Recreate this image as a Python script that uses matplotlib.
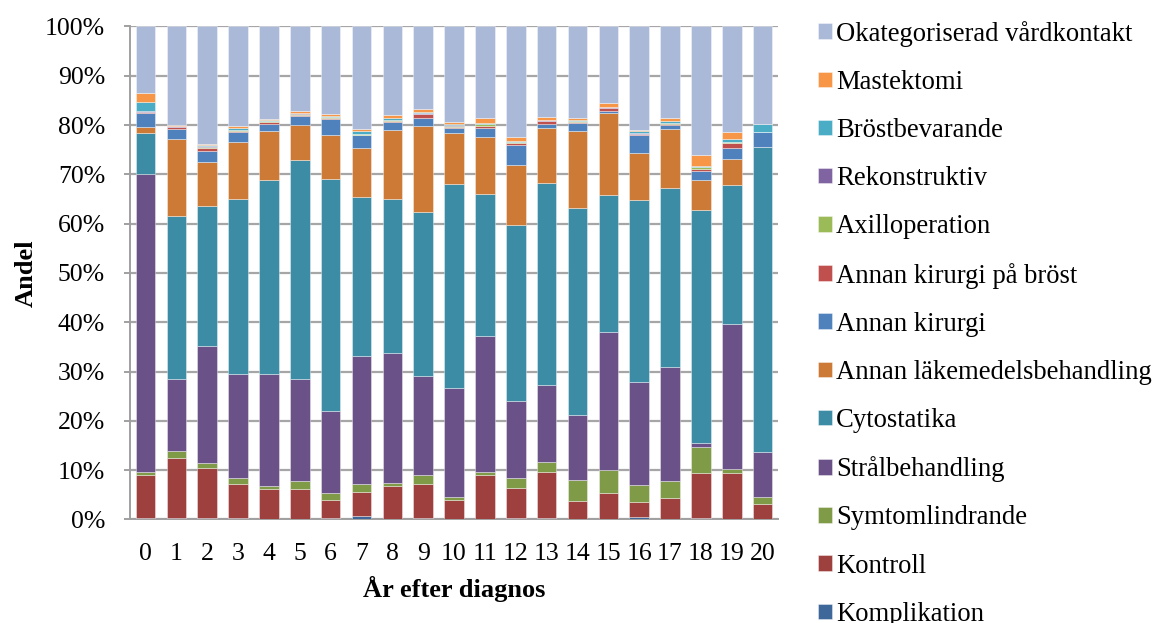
import numpy as np
import matplotlib
matplotlib.use("Agg")
import matplotlib.pyplot as plt
from matplotlib.ticker import PercentFormatter

plt.rcParams["font.family"] = ["Liberation Serif", "DejaVu Serif"]

years = [str(i) for i in range(21)]

# andel (%) per kategori och år efter diagnos
komplikation = [0.3, 0.2, 0.2, 0.2, 0.1, 0.1, 0.2, 0.6, 0.1, 0.3, 0.1, 0.1, 0.3, 0.2, 0.1, 0.1, 0.5, 0.1, 0.3, 0.1, 0.0]
kontroll = [8.7, 12.3, 10.3, 7.0, 6.0, 6.1, 3.7, 5.0, 6.7, 6.9, 3.8, 8.8, 6.0, 9.4, 3.7, 5.3, 3.1, 4.2, 9.2, 9.4, 3.1]
symtomlindrande = [0.55, 1.4, 0.9, 1.1, 0.7, 1.5, 1.4, 1.5, 0.6, 1.8, 0.6, 0.7, 2.2, 2.0, 4.1, 4.6, 3.3, 3.5, 5.2, 0.7, 1.5]
stralbehandling = [60.6, 14.5, 23.8, 21.2, 22.8, 20.8, 16.7, 26.2, 26.1, 20.2, 22.2, 27.5, 15.5, 15.6, 13.3, 28.2, 21.1, 23.2, 0.9, 29.6, 9.1]
cytostatika = [8.3, 33.2, 28.4, 35.4, 39.4, 44.3, 47.1, 32.2, 31.2, 33.2, 41.2, 28.8, 35.9, 41.1, 42.0, 27.9, 36.9, 36.3, 47.3, 28.1, 62.0]
annan_lakemedel = [1.1, 15.5, 8.8, 11.6, 9.8, 7.1, 8.9, 10.0, 13.9, 17.5, 10.4, 11.5, 12.3, 11.2, 15.6, 16.5, 9.5, 11.9, 6.1, 5.3, 0.0]
annan_kirurgi = [3.0, 2.1, 2.2, 2.1, 1.5, 1.8, 3.3, 2.7, 1.6, 1.7, 1.0, 2.0, 3.9, 0.8, 1.7, 0.5, 3.8, 0.8, 1.7, 2.3, 3.0]
kirurgi_brost = [0.1, 0.3, 0.7, 0.2, 0.4, 0.3, 0.2, 0.1, 0.3, 0.7, 0.3, 0.4, 0.5, 0.5, 0.1, 0.6, 0.1, 0.3, 0.5, 1.1, 0.0]
axilloperation = [0.1, 0.1, 0.2, 0.1, 0.1, 0.1, 0.1, 0.1, 0.1, 0.1, 0.2, 0.3, 0.1, 0.1, 0.2, 0.1, 0.1, 0.1, 0.3, 0.1, 0.0]
rekonstruktiv = [0.1, 0.1, 0.1, 0.1, 0.1, 0.2, 0.1, 0.1, 0.1, 0.1, 0.1, 0.1, 0.1, 0.1, 0.1, 0.1, 0.1, 0.1, 0.1, 0.1, 0.0]
brostbevarande = [1.8, 0.1, 0.2, 0.3, 0.1, 0.1, 0.2, 0.6, 0.3, 0.2, 0.3, 0.2, 0.2, 0.1, 0.2, 0.1, 0.4, 0.3, 0.2, 0.6, 1.6]
mastektomi = [1.9, 0.3, 0.2, 0.4, 0.2, 0.3, 0.3, 0.4, 0.7, 0.7, 0.3, 1.0, 0.7, 0.6, 0.4, 0.8, 0.3, 0.7, 2.2, 1.4, 0.0]
okategoriserad = [13.5, 19.9, 23.9, 20.3, 18.9, 17.2, 17.8, 20.8, 17.8, 16.7, 19.4, 18.5, 22.6, 18.4, 18.6, 15.5, 21.0, 18.6, 26.1, 21.4, 19.8]

series = [
    ("Komplikation", komplikation, "#3E679A"),
    ("Kontroll", kontroll, "#9E413E"),
    ("Symtomlindrande", symtomlindrande, "#7F9B48"),
    ("Strålbehandling", stralbehandling, "#6A5187"),
    ("Cytostatika", cytostatika, "#3C8CA6"),
    ("Annan läkemedelsbehandling", annan_lakemedel, "#CC7A36"),
    ("Annan kirurgi", annan_kirurgi, "#4F81BD"),
    ("Annan kirurgi på bröst", kirurgi_brost, "#C0504D"),
    ("Axilloperation", axilloperation, "#9BBB59"),
    ("Rekonstruktiv", rekonstruktiv, "#8064A2"),
    ("Bröstbevarande", brostbevarande, "#4BACC6"),
    ("Mastektomi", mastektomi, "#F79646"),
    ("Okategoriserad vårdkontakt", okategoriserad, "#AAB9D8"),
]

data = np.array([s[1] for s in series], dtype=float)
data = data / data.sum(axis=0) * 100  # 100 % staplat

fig = plt.figure(figsize=(11.55, 6.23), dpi=100)
ax = fig.add_axes([0.1126, 0.1663, 0.561, 0.7913])

x = np.arange(len(years))
bottom = np.zeros(len(years))
handles = []
for (name, _, color), vals in zip(series, data):
    b = ax.bar(x, vals, width=0.635, bottom=bottom, color=color,
               edgecolor=(1, 1, 1, 0.45), linewidth=0.6, label=name, zorder=3)
    handles.append(b)
    bottom += vals

ax.set_xlim(-0.5, 20.5)
ax.set_ylim(0, 100)
ax.set_yticks(np.arange(0, 101, 10))
ax.yaxis.set_major_formatter(PercentFormatter(decimals=0))
ax.set_xticks(x)
ax.set_xticklabels(years)

ax.grid(axis="y", color="#A6A6A6", linewidth=1.6, zorder=0)
for side in ["top", "right"]:
    ax.spines[side].set_visible(False)
for side in ["left", "bottom"]:
    ax.spines[side].set_color("#A0A0A0")
    ax.spines[side].set_linewidth(1.4)
ax.tick_params(axis="y", length=4, color="#A0A0A0", width=1.4, labelsize=18.5, pad=14)
ax.tick_params(axis="x", length=0, labelsize=18.5, pad=17)

ax.set_ylabel("Andel", fontsize=19, fontweight="bold")
ax.yaxis.set_label_coords(-0.142, 0.5)
ax.set_xlabel("År efter diagnos", fontsize=19, fontweight="bold")
ax.xaxis.set_label_coords(0.5, -0.115)

fig.legend(handles[::-1], [s[0] for s in series][::-1],
           loc="upper left", bbox_to_anchor=(0.699, 0.984), frameon=False,
           fontsize=19.2, handlelength=0.52, handleheight=0.52,
           handletextpad=0.15, labelspacing=0.87, borderaxespad=0)

fig.savefig("out.png", dpi=100)
